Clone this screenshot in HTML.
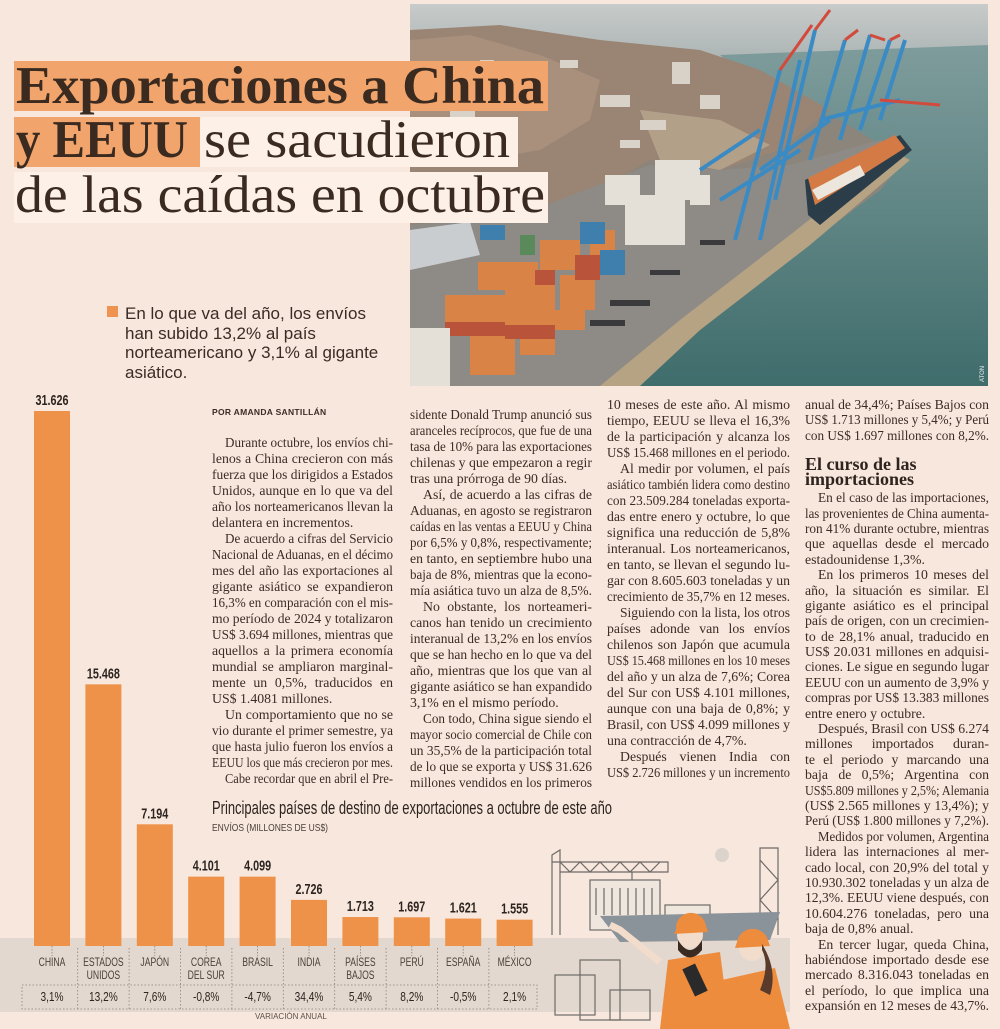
<!DOCTYPE html>
<html><head><meta charset="utf-8">
<style>
html,body{margin:0;padding:0}
body{width:1000px;height:1029px;position:relative;overflow:hidden;background:#f8e7dc;font-family:"Liberation Serif",serif;color:#3a2c25}
.col{position:absolute;font-size:13.8px}
.l{height:16px;line-height:16px;white-space:nowrap;overflow:visible}
#c4 .l{height:15.4px;line-height:15.4px}
.l span{display:inline-block;transform-origin:0 50%}
.i span{margin-left:13px}
.hd{font-weight:bold;font-size:18px;line-height:15px;color:#2e231e}
#bullet{position:absolute;left:125px;top:304px;font-family:"Liberation Sans",sans-serif;font-size:17px;line-height:19.7px;color:#3a2c25}
</style></head>
<body>
<svg style="position:absolute;left:0;top:0" width="1000" height="1029">
<defs><clipPath id="pc"><rect x="410" y="4" width="578" height="382"/></clipPath>
<linearGradient id="sea" x1="0" y1="0" x2="0" y2="1"><stop offset="0" stop-color="#7f9c9c"/><stop offset="1" stop-color="#3f6d6c"/></linearGradient>
<linearGradient id="sky" x1="0" y1="0" x2="0" y2="1"><stop offset="0" stop-color="#c7cbc9"/><stop offset="1" stop-color="#aab3b3"/></linearGradient></defs>
<g clip-path="url(#pc)">
<rect x="410" y="4" width="578" height="382" fill="#8c857c"/>
<rect x="410" y="4" width="578" height="60" fill="url(#sky)"/>
<polygon points="720,55 988,45 988,386 630,386 700,330 800,250 880,190 905,160 840,120 760,90" fill="url(#sea)"/>
<polygon points="410,30 500,25 600,40 700,50 760,70 830,110 780,150 720,170 650,160 580,200 520,215 460,215 410,225" fill="#9a8474"/>
<polygon points="410,40 470,35 540,55 600,80 590,120 540,150 480,160 410,165" fill="#a8907c"/>
<polygon points="640,110 720,120 770,145 720,170 660,160" fill="#b3a089"/>
<g fill="#d9d2c8"><rect x="600" y="95" width="30" height="12"/><rect x="672" y="62" width="18" height="22"/><rect x="520" y="80" width="22" height="9"/><rect x="450" y="110" width="25" height="10"/><rect x="640" y="120" width="26" height="10"/><rect x="560" y="60" width="18" height="8"/><rect x="700" y="95" width="20" height="14"/><rect x="480" y="60" width="14" height="8"/><rect x="620" y="140" width="20" height="8"/></g>
<polygon points="410,225 520,215 650,165 720,170 790,165 880,140 905,152 820,230 700,320 620,386 410,386" fill="#8e8b86"/>
<polygon points="600,386 680,320 790,235 895,152 910,160 810,245 700,330 640,386" fill="#b5a383"/>
<polygon points="410,230 470,222 480,255 410,270" fill="#c9cdd0"/>
<g fill="#d98346"><rect x="445" y="295" width="60" height="28"/><rect x="478" y="262" width="60" height="28"/><rect x="505" y="285" width="50" height="45"/><rect x="470" y="330" width="45" height="45"/><rect x="540" y="240" width="40" height="30"/><rect x="560" y="275" width="35" height="35"/><rect x="520" y="330" width="35" height="25"/><rect x="590" y="230" width="25" height="40"/><rect x="555" y="310" width="30" height="20"/></g>
<g fill="#b9543a"><rect x="445" y="322" width="60" height="14"/><rect x="505" y="325" width="50" height="14"/><rect x="575" y="255" width="25" height="25"/><rect x="535" y="270" width="20" height="15"/></g>
<g fill="#e4e0d8"><rect x="410" y="328" width="40" height="58"/><rect x="625" y="195" width="60" height="50"/><rect x="655" y="160" width="45" height="40"/><rect x="605" y="175" width="35" height="30"/><rect x="690" y="175" width="20" height="30"/></g>
<g fill="#3f7fae"><rect x="580" y="222" width="25" height="22"/><rect x="480" y="225" width="25" height="15"/><rect x="600" y="250" width="25" height="25"/></g>
<g fill="#5a8a5a"><rect x="520" y="235" width="15" height="20"/></g>
<g stroke="#3a8ac4" stroke-width="4" fill="none"><path d="M735,240 L780,70 M760,240 L800,60 M775,200 L815,30 M810,160 L845,40 M840,140 L870,35 M860,130 L890,40 M880,120 L905,40"/><path d="M700,170 L760,130 M720,200 L800,150 M760,170 L830,120 M820,120 L900,100"/></g>
<g stroke="#d24a3c" stroke-width="3"><path d="M780,70 L812,25 M815,30 L830,10 M845,40 L858,30 M870,35 L885,40 M890,40 L900,35 M880,100 L940,105"/></g>
<polygon points="805,180 900,135 912,150 820,225 808,215" fill="#2c3d4a"/>
<polygon points="808,178 895,135 905,148 815,205" fill="#d47a45"/>
<polygon points="812,190 860,165 865,175 818,200" fill="#ece6dc"/>
<g fill="#3a3a3c"><rect x="610" y="300" width="40" height="6"/><rect x="590" y="320" width="35" height="6"/><rect x="650" y="270" width="30" height="5"/><rect x="700" y="240" width="25" height="5"/></g>
</g>
<text x="984" y="382" font-family="Liberation Sans" font-size="6" fill="#eee" transform="rotate(-90 984 382)">ATON</text>
</svg>

<svg style="position:absolute;left:0;top:0" width="560" height="230">
<rect x="14" y="61" width="534" height="50" fill="#f1a46b"/>
<rect x="14" y="117" width="186" height="50" fill="#f1a46b"/>
<rect x="200" y="117" width="318" height="50" fill="#fcf0e7"/>
<rect x="14" y="172" width="534" height="51" fill="#fcf0e7"/>
<text x="16" y="103" font-family="Liberation Serif" font-weight="bold" font-size="53" fill="#3a2a20" textLength="528" lengthAdjust="spacingAndGlyphs">Exportaciones a China</text>
<text x="16" y="157" font-family="Liberation Serif" font-weight="bold" font-size="53" fill="#3a2a20" textLength="172" lengthAdjust="spacingAndGlyphs">y EEUU</text>
<text x="204" y="157" font-family="Liberation Serif" font-size="53" fill="#3a2a20" textLength="306" lengthAdjust="spacingAndGlyphs">se sacudieron</text>
<text x="15" y="212" font-family="Liberation Serif" font-size="53" fill="#3a2a20" textLength="530" lengthAdjust="spacingAndGlyphs">de las caídas en octubre</text>
</svg>

<div style="position:absolute;left:107px;top:306px;width:11px;height:11px;background:#ee9350"></div>
<div id="bullet">En lo que va del año, los envíos<br>han subido 13,2% al país<br>norteamericano y 3,1% al gigante<br>asiático.</div>

<div style="position:absolute;left:212px;top:407px;font-family:'Liberation Sans',sans-serif;font-weight:bold;font-size:8.5px;letter-spacing:.3px;color:#3a2c25">POR AMANDA SANTILLÁN</div>

<div class="col" style="left:212px;top:435px;width:181px">
<div class="l i"><span>Durante octubre, los envíos chi-</span></div>
<div class="l"><span>lenos a China crecieron con más</span></div>
<div class="l"><span>fuerza que los dirigidos a Estados</span></div>
<div class="l"><span>Unidos, aunque en lo que va del</span></div>
<div class="l"><span>año los norteamericanos llevan la</span></div>
<div class="l e"><span>delantera en incrementos.</span></div>
<div class="l i"><span>De acuerdo a cifras del Servicio</span></div>
<div class="l"><span>Nacional de Aduanas, en el décimo</span></div>
<div class="l"><span>mes del año las exportaciones al</span></div>
<div class="l"><span>gigante asiático se expandieron</span></div>
<div class="l"><span>16,3% en comparación con el mis-</span></div>
<div class="l"><span>mo período de 2024 y totalizaron</span></div>
<div class="l"><span>US$ 3.694 millones, mientras que</span></div>
<div class="l"><span>aquellos a la primera economía</span></div>
<div class="l"><span>mundial se ampliaron marginal-</span></div>
<div class="l"><span>mente un 0,5%, traducidos en</span></div>
<div class="l e"><span>US$ 1.4081 millones.</span></div>
<div class="l i"><span>Un comportamiento que no se</span></div>
<div class="l"><span>vio durante el primer semestre, ya</span></div>
<div class="l"><span>que hasta julio fueron los envíos a</span></div>
<div class="l"><span>EEUU los que más crecieron por mes.</span></div>
<div class="l i"><span>Cabe recordar que en abril el Pre-</span></div>
</div>

<div class="col" style="left:410px;top:407px;width:182px">
<div class="l"><span>sidente Donald Trump anunció sus</span></div>
<div class="l"><span>aranceles recíprocos, que fue de una</span></div>
<div class="l"><span>tasa de 10% para las exportaciones</span></div>
<div class="l"><span>chilenas y que empezaron a regir</span></div>
<div class="l e"><span>tras una prórroga de 90 días.</span></div>
<div class="l i"><span>Así, de acuerdo a las cifras de</span></div>
<div class="l"><span>Aduanas, en agosto se registraron</span></div>
<div class="l"><span>caídas en las ventas a EEUU y China</span></div>
<div class="l"><span>por 6,5% y 0,8%, respectivamente;</span></div>
<div class="l"><span>en tanto, en septiembre hubo una</span></div>
<div class="l"><span>baja de 8%, mientras que la econo-</span></div>
<div class="l"><span>mía asiática tuvo un alza de 8,5%.</span></div>
<div class="l i"><span>No obstante, los norteameri-</span></div>
<div class="l"><span>canos han tenido un crecimiento</span></div>
<div class="l"><span>interanual de 13,2% en los envíos</span></div>
<div class="l"><span>que se han hecho en lo que va del</span></div>
<div class="l"><span>año, mientras que los que van al</span></div>
<div class="l"><span>gigante asiático se han expandido</span></div>
<div class="l e"><span>3,1% en el mismo período.</span></div>
<div class="l i"><span>Con todo, China sigue siendo el</span></div>
<div class="l"><span>mayor socio comercial de Chile con</span></div>
<div class="l"><span>un 35,5% de la participación total</span></div>
<div class="l"><span>de lo que se exporta y US$ 31.626</span></div>
<div class="l"><span>millones vendidos en los primeros</span></div>
</div>

<div class="col" style="left:607px;top:397px;width:183px">
<div class="l"><span>10 meses de este año. Al mismo</span></div>
<div class="l"><span>tiempo, EEUU se lleva el 16,3%</span></div>
<div class="l"><span>de la participación y alcanza los</span></div>
<div class="l"><span>US$ 15.468 millones en el periodo.</span></div>
<div class="l i"><span>Al medir por volumen, el país</span></div>
<div class="l"><span>asiático también lidera como destino</span></div>
<div class="l"><span>con 23.509.284 toneladas exporta-</span></div>
<div class="l"><span>das entre enero y octubre, lo que</span></div>
<div class="l"><span>significa una reducción de 5,8%</span></div>
<div class="l"><span>interanual. Los norteamericanos,</span></div>
<div class="l"><span>en tanto, se llevan el segundo lu-</span></div>
<div class="l"><span>gar con 8.605.603 toneladas y un</span></div>
<div class="l"><span>crecimiento de 35,7% en 12 meses.</span></div>
<div class="l i"><span>Siguiendo con la lista, los otros</span></div>
<div class="l"><span>países adonde van los envíos</span></div>
<div class="l"><span>chilenos son Japón que acumula</span></div>
<div class="l"><span>US$ 15.468 millones en los 10 meses</span></div>
<div class="l"><span>del año y un alza de 7,6%; Corea</span></div>
<div class="l"><span>del Sur con US$ 4.101 millones,</span></div>
<div class="l"><span>aunque con una baja de 0,8%; y</span></div>
<div class="l"><span>Brasil, con US$ 4.099 millones y</span></div>
<div class="l e"><span>una contracción de 4,7%.</span></div>
<div class="l i"><span>Después vienen India con</span></div>
<div class="l"><span>US$ 2.726 millones y un incremento</span></div>
</div>

<div class="col" id="c4" style="left:805px;top:397px;width:184px">
<div class="l"><span>anual de 34,4%; Países Bajos con</span></div>
<div class="l"><span>US$ 1.713 millones y 5,4%; y Perú</span></div>
<div class="l"><span>con US$ 1.697 millones con 8,2%.</span></div>
<div style="height:14px"></div>
<div class="hd">El curso de las<br>importaciones</div>
<div style="height:3px"></div>
<div class="l i"><span>En el caso de las importaciones,</span></div>
<div class="l"><span>las provenientes de China aumenta-</span></div>
<div class="l"><span>ron 41% durante octubre, mientras</span></div>
<div class="l"><span>que aquellas desde el mercado</span></div>
<div class="l e"><span>estadounidense 1,3%.</span></div>
<div class="l i"><span>En los primeros 10 meses del</span></div>
<div class="l"><span>año, la situación es similar. El</span></div>
<div class="l"><span>gigante asiático es el principal</span></div>
<div class="l"><span>país de origen, con un crecimien-</span></div>
<div class="l"><span>to de 28,1% anual, traducido en</span></div>
<div class="l"><span>US$ 20.031 millones en adquisi-</span></div>
<div class="l"><span>ciones. Le sigue en segundo lugar</span></div>
<div class="l"><span>EEUU con un aumento de 3,9% y</span></div>
<div class="l"><span>compras por US$ 13.383 millones</span></div>
<div class="l e"><span>entre enero y octubre.</span></div>
<div class="l i"><span>Después, Brasil con US$ 6.274</span></div>
<div class="l"><span>millones importados duran-</span></div>
<div class="l"><span>te el periodo y marcando una</span></div>
<div class="l"><span>baja de 0,5%; Argentina con</span></div>
<div class="l"><span>US$5.809 millones y 2,5%; Alemania</span></div>
<div class="l"><span>(US$ 2.565 millones y 13,4%); y</span></div>
<div class="l e"><span>Perú (US$ 1.800 millones y 7,2%).</span></div>
<div class="l i"><span>Medidos por volumen, Argentina</span></div>
<div class="l"><span>lidera las internaciones al mer-</span></div>
<div class="l"><span>cado local, con 20,9% del total y</span></div>
<div class="l"><span>10.930.302 toneladas y un alza de</span></div>
<div class="l"><span>12,3%. EEUU viene después, con</span></div>
<div class="l"><span>10.604.276 toneladas, pero una</span></div>
<div class="l e"><span>baja de 0,8% anual.</span></div>
<div class="l i"><span>En tercer lugar, queda China,</span></div>
<div class="l"><span>habiéndose importado desde ese</span></div>
<div class="l"><span>mercado 8.316.043 toneladas en</span></div>
<div class="l"><span>el período, lo que implica una</span></div>
<div class="l e"><span>expansión en 12 meses de 43,7%.</span></div>
</div>

<svg id="chart" style="position:absolute;left:0;top:0" width="1000" height="1029">
<rect x="0" y="938" width="790" height="74" fill="#e2d8cf"/>
<text x="212" y="814" font-family="Liberation Sans Narrow, Liberation Sans, sans-serif" font-size="18" fill="#2c2420" textLength="400" lengthAdjust="spacingAndGlyphs">Principales países de destino de exportaciones a octubre de este año</text>
<text x="212" y="831" font-family="Liberation Sans Narrow, Liberation Sans, sans-serif" font-size="10.5" fill="#4a3f3a" textLength="116" lengthAdjust="spacingAndGlyphs">ENVÍOS (MILLONES DE US$)</text>
<text x="255" y="1019" font-family="Liberation Sans" font-size="8" fill="#5a504a">VARIACIÓN ANUAL</text>
<g id="illus">
<g stroke="#6d6a68" stroke-width="1.2" fill="none">
<path d="M552,935 L552,855 L560,850 L560,935 M552,862 L668,862 L668,872 L560,872 M560,862 L570,872 L580,862 L590,872 L600,862 L610,872 L620,862 L630,872 L640,862 L650,872 L660,862"/>
<path d="M632,872 L632,890"/>
<path d="M760,935 L760,848 L778,848 L778,935 M760,860 L778,880 L760,900 L778,920"/>
<rect x="590" y="880" width="70" height="50" fill="#efe6de"/>
<rect x="665" y="905" width="45" height="25" fill="#efe6de"/>
<path d="M596,888 L596,915 M604,888 L604,915 M612,888 L612,915 M620,888 L620,915 M628,888 L628,915 M636,888 L636,915 M644,888 L644,915 M652,888 L652,915"/>
<rect x="555" y="975" width="40" height="40"/><rect x="580" y="960" width="40" height="60"/><rect x="610" y="990" width="40" height="30"/>
</g>
<polygon points="600,916 780,912 770,940 620,942" fill="#8a929a"/>
<circle cx="722" cy="855" r="7" fill="#dcd4cc"/>
<polygon points="668,960 720,952 730,1029 660,1029" fill="#ee8c3e"/>
<circle cx="690" cy="935" r="13" fill="#f2dccb"/>
<path d="M676,930 A15,15 0 0 1 706,926 L708,932 L674,934 Z" fill="#ee8c3e"/>
<path d="M678,940 Q690,960 702,940 L702,950 Q690,965 678,950 Z" fill="#3b2a22"/>
<path d="M660,962 L620,930 L610,925" stroke="#f2dccb" stroke-width="7" fill="none"/>
<polygon points="722,980 775,968 790,1029 725,1029" fill="#ee8c3e"/>
<circle cx="752" cy="948" r="13" fill="#f2dccb"/>
<path d="M737,942 A16,16 0 0 1 768,940 L770,946 L735,948 Z" fill="#ee8c3e"/>
<path d="M762,944 Q778,970 770,995 L760,990 Q770,965 762,950 Z" fill="#5a3a2a"/>
<rect x="688" y="965" width="14" height="30" fill="#2a2a2a" transform="rotate(-25 695 980)"/>
</g>
</svg>

<script>
// chart data
const categories = ["CHINA","ESTADOS\nUNIDOS","JAPÓN","COREA\nDEL SUR","BRASIL","INDIA","PAÍSES\nBAJOS","PERÚ","ESPAÑA","MÉXICO"];
const values = [31626,15468,7194,4101,4099,2726,1713,1697,1621,1555];
const changes = ["3,1","13,2","7,6","-0,8","-4,7","34,4","5,4","8,2","-0,5","2,1"];

const NS = "http://www.w3.org/2000/svg";
const chart = document.getElementById("chart");
const illus = document.getElementById("illus");
const baseY = 946, topY = 411, maxV = 31626;
const xC = i => 52 + i * 51.4;
const yV = v => baseY - v * (baseY - topY) / maxV;
function mk(tag, attrs){ const e=document.createElementNS(NS,tag); for(const k in attrs) e.setAttribute(k,attrs[k]); chart.insertBefore(e, illus); return e; }
const fmt = v => (v/1000).toFixed(3);
const cond = "Liberation Sans, sans-serif";

const box = mk("rect",{x:22,y:985,width:515,height:24,fill:"none",stroke:"#8a807a","stroke-width":0.8,"stroke-dasharray":"1.5,2"});



values.forEach((v,i)=>{
  const cx = xC(i);
  const bar = mk("rect",{x:cx-18,y:yV(v),width:36,height:baseY-yV(v),fill:"#ef9249"});
  
  
  const tick = mk("line",{x1:cx,y1:baseY,x2:cx,y2:956,stroke:"#8a807a","stroke-width":0.8,"stroke-dasharray":"1.5,1.5"});
  
  
  const vl = mk("text",{x:0,y:0,"text-anchor":"middle","font-family":cond,"font-size":15,"font-weight":"bold",fill:"#2c2420",transform:"translate("+cx+","+(yV(v)-6)+") scale(0.72,1)"});
  vl.textContent = fmt(v);
  
  
  const lines = categories[i].split("\n");
  lines.forEach((t,j)=>{
    const cl = mk("text",{x:0,y:0,"text-anchor":"middle","font-family":cond,"font-size":11.5,fill:"#4a3f3a",transform:"translate("+cx+","+(966+j*13)+") scale(0.75,1)"});
    cl.textContent = t;
    
    
  });
  const pl = mk("text",{x:0,y:0,"text-anchor":"middle","font-family":cond,"font-size":13,fill:"#2c2420",transform:"translate("+cx+",1001) scale(0.78,1)"});
  pl.textContent = changes[i] + "%";
  
  
  if(i>0){
    const sx = cx - 25.7;
    const sep = mk("line",{x1:sx,y1:948,x2:sx,y2:1009,stroke:"#8a807a","stroke-width":0.8,"stroke-dasharray":"1.5,2"});
    
    
  }
});

document.querySelectorAll(".col").forEach(col=>{
  const W = col.clientWidth;
  col.querySelectorAll(".l").forEach(l=>{
    const s = l.querySelector("span");
    const ind = l.classList.contains("i") ? 13 : 0;
    const avail = W - ind;
    const w = s.getBoundingClientRect().width;
    if (w > avail) { s.style.transform = "scaleX(" + (avail / w) + ")"; }
    else if (!l.classList.contains("e")) {
      const n = (s.textContent.match(/ /g) || []).length;
      if (n > 0) s.style.wordSpacing = ((avail - w) / n) + "px";
    }
  });
});
</script>
</body></html>
